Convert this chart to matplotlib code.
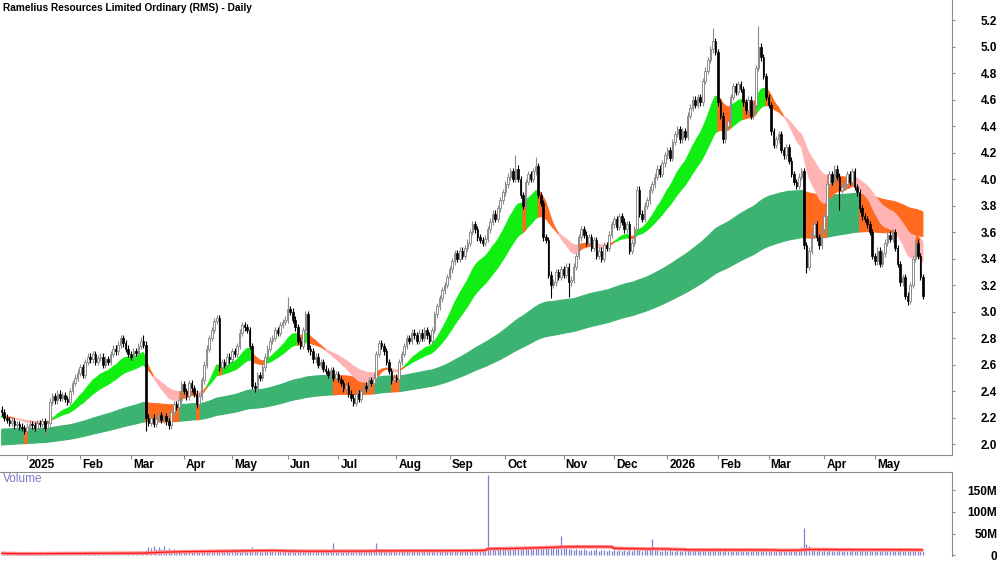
import numpy as np
import pandas as pd
import matplotlib
matplotlib.use('Agg')
import matplotlib.pyplot as plt

plt.rcParams['font.family'] = ['Liberation Sans Narrow', 'Liberation Sans', 'DejaVu Sans']

title = 'Ramelius Resources Limited Ordinary (RMS) - Daily'

# ASX trading days shown on the chart
holidays = ['2024-12-25', '2024-12-26', '2025-01-01', '2025-01-27', '2025-04-18',
            '2025-04-21', '2025-04-25', '2025-06-09', '2025-12-25', '2025-12-26',
            '2026-01-01', '2026-01-26', '2026-04-03', '2026-04-06']
dates = pd.bdate_range('2024-12-16', '2026-05-28')
dates = dates[~dates.isin(pd.to_datetime(holidays))]

# daily closes
close = [
    2.24, 2.20, 2.18, 2.16, 2.17, 2.14, 2.15, 2.13, 2.12, 2.10,
    2.13, 2.15, 2.14, 2.12, 2.16, 2.15, 2.17, 2.12, 2.16, 2.32,
    2.36, 2.33, 2.38, 2.35, 2.37, 2.34, 2.32, 2.40, 2.46, 2.50,
    2.54, 2.58, 2.52, 2.62, 2.66, 2.64, 2.68, 2.62, 2.65, 2.66,
    2.60, 2.64, 2.62, 2.68, 2.72, 2.70, 2.75, 2.80, 2.76, 2.72,
    2.68, 2.66, 2.70, 2.69, 2.74, 2.78, 2.75, 2.20, 2.16, 2.20,
    2.15, 2.19, 2.22, 2.18, 2.21, 2.17, 2.14, 2.24, 2.30, 2.28,
    2.33, 2.45, 2.40, 2.36, 2.46, 2.42, 2.38, 2.30, 2.36, 2.48,
    2.60, 2.72, 2.80, 2.86, 2.93, 2.95, 2.58, 2.62, 2.60, 2.66,
    2.64, 2.70, 2.68, 2.74, 2.84, 2.90, 2.88, 2.86, 2.74, 2.44,
    2.42, 2.52, 2.50, 2.58, 2.66, 2.72, 2.78, 2.80, 2.86, 2.84,
    2.90, 2.92, 2.94, 3.02, 3.00, 2.94, 2.88, 2.78, 2.74, 2.86,
    2.98, 2.72, 2.70, 2.64, 2.66, 2.60, 2.62, 2.57, 2.55, 2.52,
    2.56, 2.50, 2.53, 2.49, 2.46, 2.42, 2.44, 2.38, 2.35, 2.31,
    2.38, 2.34, 2.40, 2.44, 2.42, 2.48, 2.46, 2.50, 2.68, 2.76,
    2.74, 2.70, 2.62, 2.55, 2.48, 2.50, 2.49, 2.62, 2.68, 2.74,
    2.80, 2.78, 2.84, 2.82, 2.78, 2.84, 2.80, 2.86, 2.82, 2.78,
    2.86, 2.98, 3.04, 3.10, 3.16, 3.20, 3.26, 3.32, 3.38, 3.44,
    3.40, 3.46, 3.42, 3.48, 3.52, 3.60, 3.66, 3.62, 3.56, 3.54,
    3.52, 3.55, 3.62, 3.68, 3.74, 3.70, 3.78, 3.84, 3.90, 3.96,
    4.02, 4.06, 4.00, 4.08, 4.00, 3.88, 3.80, 3.98, 4.04, 4.00,
    4.06, 4.10, 3.88, 3.82, 3.56, 3.54, 3.28, 3.20, 3.22, 3.30,
    3.26, 3.32, 3.28, 3.34, 3.22, 3.24, 3.34, 3.42, 3.56, 3.62,
    3.58, 3.52, 3.56, 3.48, 3.54, 3.42, 3.46, 3.40, 3.50, 3.48,
    3.58, 3.66, 3.70, 3.64, 3.72, 3.68, 3.62, 3.66, 3.46, 3.52,
    3.62, 3.92, 3.74, 3.70, 3.80, 3.84, 3.92, 3.96, 4.02, 4.08,
    4.04, 4.12, 4.18, 4.22, 4.16, 4.28, 4.34, 4.38, 4.30, 4.36,
    4.32, 4.48, 4.54, 4.60, 4.56, 4.62, 4.58, 4.74, 4.82, 4.90,
    4.98, 5.04, 4.96, 4.58, 4.48, 4.30, 4.40, 4.44, 4.62, 4.70,
    4.66, 4.72, 4.68, 4.58, 4.52, 4.60, 4.48, 4.56, 4.84, 5.00,
    4.92, 4.78, 4.62, 4.56, 4.36, 4.26, 4.30, 4.34, 4.22, 4.18,
    4.24, 4.14, 4.04, 3.98, 3.95, 4.02, 4.06, 3.50, 3.34, 3.46,
    3.58, 3.66, 3.56, 3.50, 3.62, 3.72, 3.96, 4.04, 3.98, 4.08,
    4.02, 3.92, 3.94, 3.96, 4.04, 3.98, 4.06, 3.94, 3.90, 3.78,
    3.72, 3.70, 3.66, 3.60, 3.42, 3.38, 3.46, 3.36, 3.44, 3.52,
    3.58, 3.55, 3.60, 3.48, 3.36, 3.22, 3.26, 3.12, 3.08, 3.20,
    3.40, 3.52, 3.42, 3.26, 3.12,
]
first_open = 2.26

# notable long wicks (day index: price)
high_spikes = {113: 3.11, 203: 4.18, 211: 4.17, 281: 5.14, 299: 5.16, 56: 2.82}
low_spikes = {18: 2.07, 57: 2.10, 139: 2.29, 217: 3.10, 224: 3.11, 318: 3.29,
              331: 3.77, 358: 3.05}

# volume, millions
volume = [
    5, 4, 4, 3, 6, 3, 2, 3, 4, 4,
    4, 3, 4, 3, 5, 4, 3, 4, 5, 8,
    6, 5, 4, 5, 4, 4, 3, 6, 7, 8,
    6, 5, 5, 7, 6, 5, 6, 4, 5, 6,
    5, 6, 4, 5, 6, 5, 7, 6, 5, 4,
    5, 6, 4, 5, 6, 5, 7, 12, 20, 18,
    22, 15, 20, 14, 22, 12, 16, 10, 14, 9,
    12, 8, 10, 9, 11, 8, 10, 12, 9, 10,
    11, 9, 8, 10, 12, 9, 14, 8, 9, 7,
    8, 10, 9, 8, 7, 9, 8, 7, 9, 20,
    12, 9, 8, 7, 9, 8, 10, 9, 8, 10,
    9, 8, 12, 14, 10, 9, 8, 9, 11, 8,
    10, 13, 9, 8, 10, 9, 8, 9, 8, 10,
    11, 28, 9, 8, 10, 9, 8, 10, 9, 11,
    8, 10, 9, 8, 10, 9, 11, 10, 28, 14,
    11, 9, 10, 8, 9, 10, 8, 9, 10, 11,
    9, 8, 10, 12, 9, 8, 10, 11, 9, 10,
    12, 14, 11, 10, 13, 12, 14, 11, 12, 13,
    10, 14, 12, 11, 13, 15, 12, 14, 13, 12,
    11, 15, 185, 18, 20, 16, 17, 15, 16, 14,
    18, 22, 16, 15, 17, 20, 18, 16, 15, 17,
    14, 16, 18, 22, 20, 24, 18, 20, 17, 15,
    16, 45, 18, 16, 14, 15, 13, 14, 12, 13,
    15, 12, 11, 13, 12, 14, 11, 12, 13, 11,
    12, 10, 12, 11, 13, 10, 12, 11, 12, 10,
    13, 14, 12, 11, 12, 13, 14, 38, 13, 12,
    11, 10, 12, 11, 13, 10, 11, 12, 10, 11,
    13, 12, 14, 11, 13, 16, 12, 13, 11, 14,
    12, 15, 13, 12, 16, 11, 12, 10, 11, 12,
    9, 10, 11, 12, 10, 9, 11, 10, 12, 13,
    11, 10, 12, 11, 10, 13, 11, 12, 10, 11,
    13, 12, 14, 11, 13, 12, 20, 62, 26, 22,
    14, 12, 11, 13, 10, 12, 11, 12, 10, 11,
    9, 12, 10, 11, 9, 10, 12, 11, 10, 9,
    12, 10, 13, 11, 10, 9, 11, 10, 12, 9,
    11, 10, 9, 11, 10, 12, 9, 11, 10, 9,
    12, 10, 11, 9, 10,
]

# ribbon EMA periods and their values on the first day shown
short_spans = (18, 36)
long_spans = (150, 250)
short_seed = (2.21, 2.20)
long_seed = (2.11, 1.99)

assert len(close) == len(volume) == len(dates), (len(close), len(volume), len(dates))

close = np.array(close)
volume = np.array(volume, dtype=float)
n = len(close)
x = np.arange(n)
opens = np.r_[first_open, close[:-1]]
high = np.maximum(opens, close) + 0.025
low = np.minimum(opens, close) - 0.025
for k, v in high_spikes.items():
    high[k] = v
for k, v in low_spikes.items():
    low[k] = v


def ema(values, span, seed):
    a = 2.0 / (span + 1)
    out = np.empty(len(values))
    prev = seed
    for k, v in enumerate(values):
        prev = prev + a * (v - prev)
        out[k] = prev
    return out


def ribbon(ax, fast, slow, colors):
    bull = fast >= slow
    state = np.where(bull, np.where(close >= fast, 0, 1), np.where(close < fast, 2, 1))
    lo = np.minimum(fast, slow)
    hi = np.maximum(fast, slow)
    for s, c in enumerate(colors):
        mask = state == s
        ext = mask | np.r_[False, mask[:-1]]
        ax.fill_between(x, lo, hi, where=ext, color=c, lw=0.8, edgecolor=c, zorder=1)


fig = plt.figure(figsize=(10, 5.62), dpi=100)
ax = fig.add_axes([0, 107 / 562, 0.952, 455 / 562])
axv = fig.add_axes([0, 6 / 562, 0.952, 84 / 562])

s_fast = ema(close, short_spans[0], short_seed[0])
s_slow = ema(close, short_spans[1], short_seed[1])
l_fast = ema(close, long_spans[0], long_seed[0])
l_slow = ema(close, long_spans[1], long_seed[1])
ribbon(ax, l_fast, l_slow, ['#3cb371', '#ff6a1f', '#e8402a'])
ribbon(ax, s_fast, s_slow, ['#11ee11', '#ff6a1f', '#ffb3b3'])

# candles
up = close >= opens
ax.vlines(x[up], low[up], high[up], color='#8c8c8c', lw=0.8, zorder=2)
ax.vlines(x[~up], low[~up], high[~up], color='black', lw=0.8, zorder=2)
body_lo = np.minimum(opens, close)
body_h = np.maximum(np.abs(close - opens), 0.005)
ax.bar(x[up], body_h[up], bottom=body_lo[up], width=0.62, color='white',
       edgecolor='#8c8c8c', linewidth=0.7, zorder=3)
ax.bar(x[~up], body_h[~up], bottom=body_lo[~up], width=0.62, color='black',
       edgecolor='black', linewidth=0.5, zorder=3)

# volume
axv.vlines(x, 0, volume, color='#8080d0', lw=0.9)
vol_ma = pd.Series(volume).rolling(50, min_periods=1).mean()
axv.plot(x, vol_ma, color='#ff8c8c', lw=2.6, solid_capstyle='butt')
axv.plot(x, vol_ma, color='#ff1a1a', lw=0.9)

xmin, xmax = -0.67, 375.5
for a in (ax, axv):
    a.set_xlim(xmin, xmax)
    a.set_facecolor('white')
    a.spines['left'].set_visible(False)
    a.spines['right'].set_color('#8c8c8c')
    a.yaxis.tick_right()
    a.tick_params(axis='y', length=2.5, color='#8c8c8c', pad=30, labelsize=8.5)

ax.spines['top'].set_visible(False)
ax.spines['bottom'].set_color('#8c8c8c')
axv.spines['bottom'].set_visible(False)
axv.spines['top'].set_color('#8c8c8c')

ax.set_ylim(1.917, 5.353)
yt = np.arange(2.0, 5.21, 0.2)
ax.set_yticks(yt)
ax.set_yticklabels([f'{v:.1f}' for v in yt], fontweight='bold', ha='right')

axv.set_ylim(-1.5, 192)
axv.set_yticks([0, 50, 100, 150])
axv.set_yticklabels(['0', '50M', '100M', '150M'], fontweight='bold', ha='right')
axv.set_xticks([])

# month ticks
months = pd.Series(dates.month)
starts = np.where(months.values != np.r_[months.values[0], months.values[:-1]])[0]
ax.set_xticks(starts)
ax.set_xticklabels([])
ax.tick_params(axis='x', length=3, color='#8c8c8c', direction='out')
for i in starts:
    d = dates[i]
    lab = str(d.year) if d.month == 1 else d.strftime('%b')
    ax.annotate(lab, xy=(i, 0), xycoords=('data', 'axes fraction'), xytext=(1.5, -3),
                textcoords='offset points', ha='left', va='top', fontsize=8.5,
                fontweight='bold')

fig.text(0.003, 1 - 8 / 562, title, ha='left', va='center', fontsize=7.3, fontweight='bold')
axv.annotate('Volume', xy=(0, 1), xycoords='axes fraction', xytext=(2, -1),
             textcoords='offset points', ha='left', va='top', fontsize=8.5, color='#7b7bc4')

fig.savefig('out.png', dpi=100)
